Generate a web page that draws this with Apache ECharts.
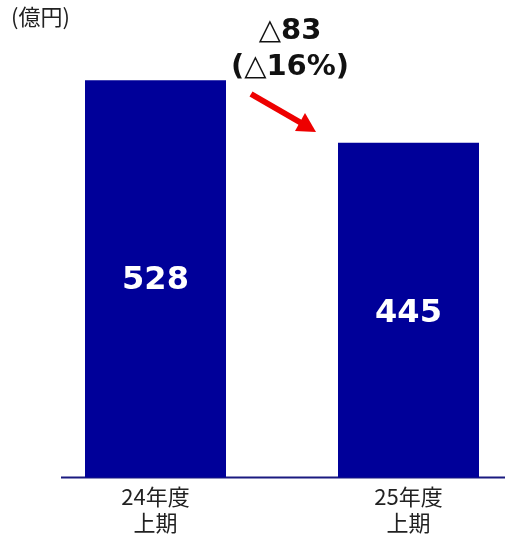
<!DOCTYPE html>
<html><head><meta charset="utf-8">
<script src="https://cdn.jsdelivr.net/npm/echarts@6/dist/echarts.min.js"></script>
<style>html,body{margin:0;padding:0;background:#fff}#c{width:505px;height:535px}</style>
</head><body><div id="c"></div>
<script>
const categories = ['24年度\n上期', '25年度\n上期'];
const values = [528, 445];
const unitLabel = '(億円)';
const diffLabel = '△83\n(△16%)';

const chart = echarts.init(document.getElementById('c'), null, {renderer: 'canvas'});
const option = {
  animation: false,
  grid: {left: 29, width: 506, top: 26, height: 451.5, outerBoundsMode: 'none', containLabel: false},
  xAxis: {
    type: 'category', data: categories,
    axisLine: {show: false}, axisTick: {show: false},
    axisLabel: {fontFamily: 'Noto Sans CJK JP', fontSize: 22, color: '#222', lineHeight: 26, margin: 6}
  },
  yAxis: {type: 'value', min: 0, max: 600, show: false, splitLine: {show: false}},
  series: [{
    type: 'bar',
    data: values.map((v, i) => ({value: v, label: {offset: [0, i === 0 ? 2 : 4]}})),
    barWidth: 141,
    itemStyle: {color: '#000099'},
    label: {show: true, position: 'inside', color: '#fff', fontFamily: 'DejaVu Sans', fontWeight: 'bold', fontSize: 32}
  }]
};
chart.setOption(option);
const y0 = chart.convertToPixel({yAxisIndex: 0}, 0);
chart.setOption({
  graphic: [
    {type: 'line', shape: {x1: 61, y1: y0, x2: 505, y2: y0}, style: {stroke: '#1a1a80', lineWidth: 2}},
    {type: 'text', left: 11, top: 6, style: {text: unitLabel, font: '22px "Noto Sans CJK JP"', fill: '#222'}},
    {type: 'text', x: 290, y: 13, style: {text: diffLabel, font: 'bold 29px "DejaVu Sans"', fill: '#111', align: 'center', lineHeight: 36}},
    {type: 'line', shape: {x1: 251, y1: 94, x2: 303, y2: 124}, style: {stroke: '#ee0000', lineWidth: 6}},
    {type: 'polygon', shape: {points: [[316, 132], [295, 131], [305, 113]]}, style: {fill: '#ee0000'}}
  ]
});
</script></body></html>
